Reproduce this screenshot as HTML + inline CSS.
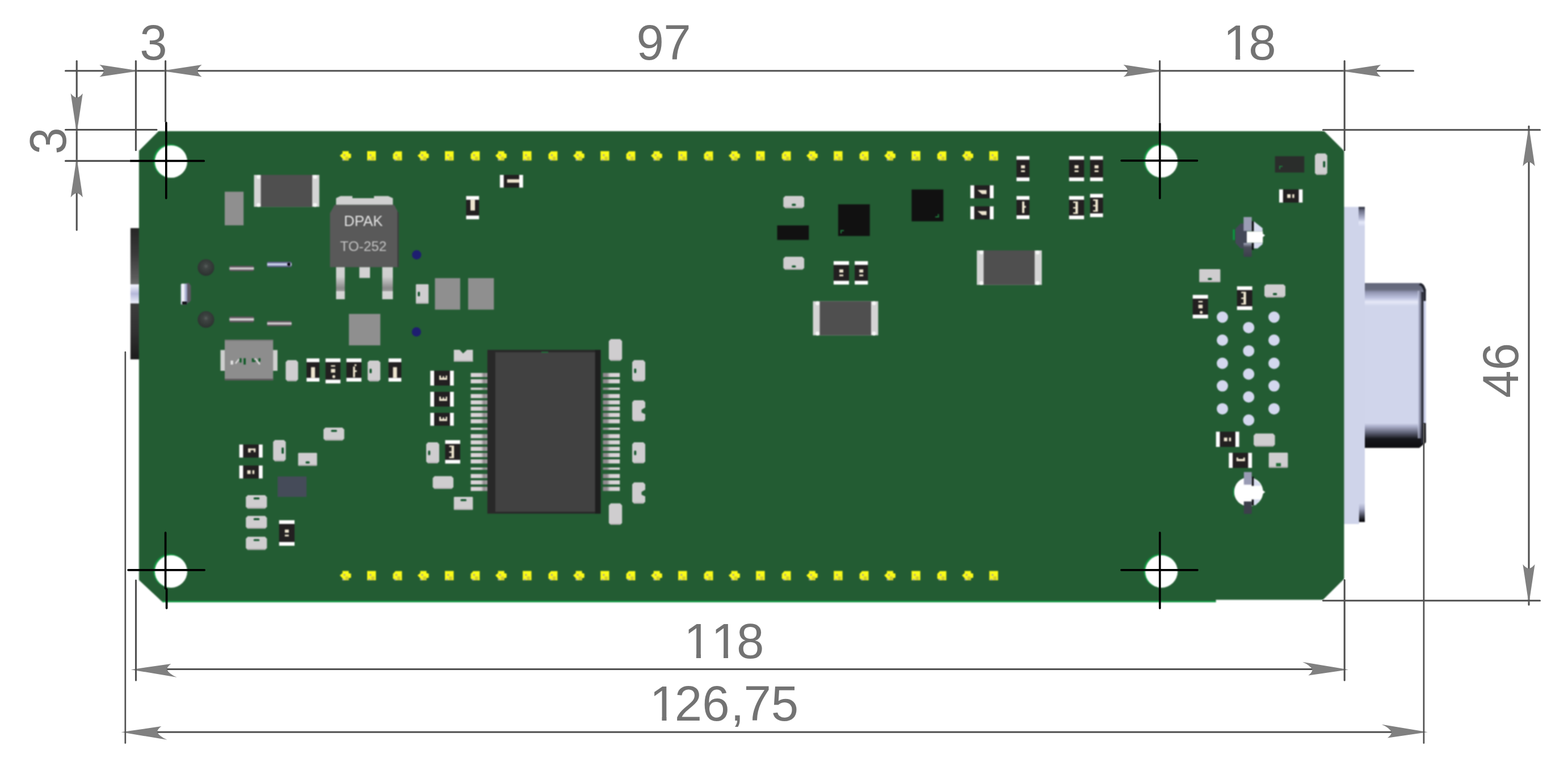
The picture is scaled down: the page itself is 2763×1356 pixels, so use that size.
<!DOCTYPE html>
<html lang="en"><head><meta charset="utf-8"><title>PCB dimensions</title>
<style>html,body{margin:0;padding:0;background:#fff;}body{width:2763px;height:1356px;overflow:hidden;}svg{display:block;}text{font-family:"Liberation Sans",sans-serif;}</style>
</head><body>
<svg width="2763" height="1356" viewBox="0 0 2763 1356">
<defs>
<linearGradient id="jack" x1="0" y1="0" x2="0" y2="1"><stop offset="0" stop-color="#262626"/><stop offset="0.2" stop-color="#3a3a3a"/><stop offset="0.38" stop-color="#5c5c5c"/><stop offset="0.425" stop-color="#6a6a6a"/><stop offset="0.432" stop-color="#f4f4ff"/><stop offset="0.5" stop-color="#b4b8da"/><stop offset="0.57" stop-color="#eceefa"/><stop offset="0.578" stop-color="#3c3c3c"/><stop offset="0.8" stop-color="#303030"/><stop offset="1" stop-color="#1c1c1c"/></linearGradient>
<linearGradient id="shell" x1="0" y1="0" x2="0" y2="1"><stop offset="0" stop-color="#62667a"/><stop offset="0.04" stop-color="#6a6e80"/><stop offset="0.055" stop-color="#9094b0"/><stop offset="0.09" stop-color="#bcc1de"/><stop offset="0.115" stop-color="#e6e9f8"/><stop offset="0.14" stop-color="#d0d5eb"/><stop offset="0.85" stop-color="#d0d5eb"/><stop offset="0.87" stop-color="#a9adc8"/><stop offset="0.91" stop-color="#5a5d70"/><stop offset="0.945" stop-color="#16171c"/><stop offset="1" stop-color="#0c0c10"/></linearGradient>
<linearGradient id="leg" x1="0" y1="0" x2="0" y2="1"><stop offset="0" stop-color="#d2d2d2"/><stop offset="0.3" stop-color="#cfcfcf"/><stop offset="0.65" stop-color="#8a8a8a"/><stop offset="0.74" stop-color="#999"/><stop offset="0.76" stop-color="#d6d6d6"/><stop offset="1" stop-color="#d2d2d2"/></linearGradient>
<linearGradient id="pinh" x1="0" y1="0" x2="0" y2="1"><stop offset="0" stop-color="#4e444c"/><stop offset="0.25" stop-color="#7a7078"/><stop offset="0.5" stop-color="#f0f0f0"/><stop offset="0.75" stop-color="#7a7078"/><stop offset="1" stop-color="#4e444c"/></linearGradient>
<linearGradient id="pinb" x1="0" y1="0" x2="0" y2="1"><stop offset="0" stop-color="#4a4866"/><stop offset="0.25" stop-color="#8086b0"/><stop offset="0.5" stop-color="#e6ebff"/><stop offset="0.75" stop-color="#8086b0"/><stop offset="1" stop-color="#4a4866"/></linearGradient>
<linearGradient id="icpinL" x1="0" y1="0" x2="1" y2="0"><stop offset="0" stop-color="#ddd6da"/><stop offset="0.62" stop-color="#d8d1d5"/><stop offset="0.78" stop-color="#918b8f"/><stop offset="1" stop-color="#aaa4a8"/></linearGradient>
<linearGradient id="icpinR" x1="1" y1="0" x2="0" y2="0"><stop offset="0" stop-color="#ddd6da"/><stop offset="0.58" stop-color="#d8d1d5"/><stop offset="0.75" stop-color="#918b8f"/><stop offset="1" stop-color="#8e888c"/></linearGradient>
<linearGradient id="flg" x1="0" y1="0" x2="0" y2="1"><stop offset="0" stop-color="#2c2e3a"/><stop offset="0.2" stop-color="#6c7088"/><stop offset="0.6" stop-color="#b4b8d4"/><stop offset="0.8" stop-color="#e4e8f8"/><stop offset="1" stop-color="#d4d8ee"/></linearGradient>
<linearGradient id="flg2" x1="0" y1="0" x2="0" y2="1"><stop offset="0" stop-color="#d0d5eb"/><stop offset="0.3" stop-color="#a4a8c4"/><stop offset="0.7" stop-color="#3c3e4c"/><stop offset="0.9" stop-color="#0c0c10"/><stop offset="1" stop-color="#0c0c10"/></linearGradient>
<linearGradient id="vpin" x1="0" y1="0" x2="1" y2="0"><stop offset="0" stop-color="#c8cce6"/><stop offset="0.35" stop-color="#ffffff"/><stop offset="0.7" stop-color="#b4b8da"/><stop offset="1" stop-color="#8084a4"/></linearGradient>
<linearGradient id="sb" x1="0" y1="0" x2="0" y2="1"><stop offset="0" stop-color="#a4a6bc"/><stop offset="0.3" stop-color="#4a4d5a"/><stop offset="1" stop-color="#3c3f4b"/></linearGradient>
<linearGradient id="shellR" x1="0" y1="0" x2="1" y2="0"><stop offset="0" stop-color="#d0d5eb"/><stop offset="0.5" stop-color="#8a8ea8"/><stop offset="1" stop-color="#4a4c5c"/></linearGradient>
<radialGradient id="ball" cx="0.5" cy="0.42" r="0.6"><stop offset="0" stop-color="#5a605e"/><stop offset="0.25" stop-color="#3e4442"/><stop offset="1" stop-color="#2a302e"/></radialGradient>
<filter id="soft" x="-1%" y="-1%" width="102%" height="102%" color-interpolation-filters="sRGB"><feGaussianBlur stdDeviation="0.85"/></filter>
</defs>
<rect width="2763" height="1356" fill="#ffffff"/>
<g filter="url(#soft)">
<rect x="229.9" y="401.7" width="16.1" height="231.1" fill="url(#jack)" />
<rect x="2368.0" y="364.4" width="37.0" height="558.4" fill="#cfd4ea" />
<rect x="2394.0" y="364.4" width="11.0" height="33.6" fill="url(#flg)" />
<rect x="2394.8" y="886.0" width="10.2" height="33.5" fill="url(#flg2)" />
<rect x="2394.8" y="919.5" width="10.2" height="3.5" fill="#ffffff" />
<path d="M2405 498.4 H2503 Q2509 499 2512.5 510 V779 L2501 788.8 H2405 Z" fill="url(#shell)"/>
<path d="M2498.4 512 H2504.5 V772 H2498.4 Z" fill="url(#shellR)" opacity="0.8"/>
<path d="M2503 498.4 Q2509 499 2512.5 510 V530 H2508.6 V514 Q2507 503 2500 502 Z" fill="#20222c"/>
<path d="M2504.5 514 H2508.6 V779 L2504.5 782 Z" fill="#2a2c38"/>
<path d="M2508.6 530 H2512.5 V745 H2508.6 Z" fill="#ccd1ea"/>
<path d="M2508.6 745 H2512.5 V779 L2508.6 782 Z" fill="#14151a"/>
<path d="M279.4 230.9 H2333.5 L2368.4 265.7 V1019.6 L2331.2 1056.3 H2142.5 V1060.2 H286.4 L244.9 1021.6 V265.6 Z" fill="#235c33"/>
<line x1="286" y1="1059.2" x2="2142.5" y2="1059.2" stroke="#0c9a40" stroke-width="2.4"/>
<circle cx="299.59999999999997" cy="283.3" r="29.6" fill="#10953f"/>
<circle cx="301.4" cy="284.5" r="28.6" fill="#ffffff"/>
<circle cx="2044.8" cy="282.8" r="29.6" fill="#10953f"/>
<circle cx="2046.6" cy="284.0" r="28.6" fill="#ffffff"/>
<circle cx="299.59999999999997" cy="1005.1999999999999" r="29.6" fill="#10953f"/>
<circle cx="301.4" cy="1006.4" r="28.6" fill="#ffffff"/>
<circle cx="2044.8" cy="1005.1999999999999" r="29.6" fill="#10953f"/>
<circle cx="2046.6" cy="1006.4" r="28.6" fill="#ffffff"/>
<polygon points="598.7,273.9 603.5,269.9 603.5,266.2 614.5,266.2 614.5,269.9 618.6,270.9 618.6,277.9 614.5,278.9 614.5,282.6 603.5,282.6 603.5,278.9" fill="#fbfb18"/>
<rect x="608.5" y="275.9" width="5.5" height="6.7" fill="#d2cc34" />
<circle cx="607.0" cy="273.2" r="1.7" fill="#a8a296"/>
<circle cx="605.0" cy="281.4" r="1.6" fill="#aaa6b4"/>
<polygon points="647.0,266.2 662.4,266.2 662.4,282.6 647.0,282.6" fill="#fbfb18"/>
<rect x="654.2" y="275.9" width="5.5" height="6.7" fill="#d2cc34" />
<circle cx="652.7" cy="273.2" r="1.7" fill="#a8a296"/>
<circle cx="650.7" cy="281.4" r="1.6" fill="#aaa6b4"/>
<polygon points="696.9,266.4 708.3,266.4 708.3,282.6 695.9,282.6 692.4,278.9 692.4,271.4" fill="#fbfb18"/>
<rect x="699.9" y="275.9" width="5.5" height="6.7" fill="#d2cc34" />
<circle cx="698.4" cy="273.2" r="1.7" fill="#a8a296"/>
<circle cx="696.4" cy="281.4" r="1.6" fill="#aaa6b4"/>
<polygon points="735.7,273.9 740.5,269.9 740.5,266.2 751.5,266.2 751.5,269.9 755.6,270.9 755.6,277.9 751.5,278.9 751.5,282.6 740.5,282.6 740.5,278.9" fill="#fbfb18"/>
<rect x="745.5" y="275.9" width="5.5" height="6.7" fill="#d2cc34" />
<circle cx="744.0" cy="273.2" r="1.7" fill="#a8a296"/>
<circle cx="742.0" cy="281.4" r="1.6" fill="#aaa6b4"/>
<polygon points="784.0,266.2 799.4,266.2 799.4,282.6 784.0,282.6" fill="#fbfb18"/>
<rect x="791.2" y="275.9" width="5.5" height="6.7" fill="#d2cc34" />
<circle cx="789.7" cy="273.2" r="1.7" fill="#a8a296"/>
<circle cx="787.7" cy="281.4" r="1.6" fill="#aaa6b4"/>
<polygon points="833.9,266.4 845.3,266.4 845.3,282.6 832.9,282.6 829.4,278.9 829.4,271.4" fill="#fbfb18"/>
<rect x="836.9" y="275.9" width="5.5" height="6.7" fill="#d2cc34" />
<circle cx="835.4" cy="273.2" r="1.7" fill="#a8a296"/>
<circle cx="833.4" cy="281.4" r="1.6" fill="#aaa6b4"/>
<polygon points="872.8,273.9 877.6,269.9 877.6,266.2 888.6,266.2 888.6,269.9 892.7,270.9 892.7,277.9 888.6,278.9 888.6,282.6 877.6,282.6 877.6,278.9" fill="#fbfb18"/>
<rect x="882.6" y="275.9" width="5.5" height="6.7" fill="#d2cc34" />
<circle cx="881.1" cy="273.2" r="1.7" fill="#a8a296"/>
<circle cx="879.1" cy="281.4" r="1.6" fill="#aaa6b4"/>
<polygon points="921.1,266.2 936.5,266.2 936.5,282.6 921.1,282.6" fill="#fbfb18"/>
<rect x="928.3" y="275.9" width="5.5" height="6.7" fill="#d2cc34" />
<circle cx="926.8" cy="273.2" r="1.7" fill="#a8a296"/>
<circle cx="924.8" cy="281.4" r="1.6" fill="#aaa6b4"/>
<polygon points="970.9,266.4 982.3,266.4 982.3,282.6 969.9,282.6 966.4,278.9 966.4,271.4" fill="#fbfb18"/>
<rect x="973.9" y="275.9" width="5.5" height="6.7" fill="#d2cc34" />
<circle cx="972.4" cy="273.2" r="1.7" fill="#a8a296"/>
<circle cx="970.4" cy="281.4" r="1.6" fill="#aaa6b4"/>
<polygon points="1009.8,273.9 1014.6,269.9 1014.6,266.2 1025.6,266.2 1025.6,269.9 1029.7,270.9 1029.7,277.9 1025.6,278.9 1025.6,282.6 1014.6,282.6 1014.6,278.9" fill="#fbfb18"/>
<rect x="1019.6" y="275.9" width="5.5" height="6.7" fill="#d2cc34" />
<circle cx="1018.1" cy="273.2" r="1.7" fill="#a8a296"/>
<circle cx="1016.1" cy="281.4" r="1.6" fill="#aaa6b4"/>
<polygon points="1058.1,266.2 1073.5,266.2 1073.5,282.6 1058.1,282.6" fill="#fbfb18"/>
<rect x="1065.3" y="275.9" width="5.5" height="6.7" fill="#d2cc34" />
<circle cx="1063.8" cy="273.2" r="1.7" fill="#a8a296"/>
<circle cx="1061.8" cy="281.4" r="1.6" fill="#aaa6b4"/>
<polygon points="1108.0,266.4 1119.4,266.4 1119.4,282.6 1107.0,282.6 1103.5,278.9 1103.5,271.4" fill="#fbfb18"/>
<rect x="1111.0" y="275.9" width="5.5" height="6.7" fill="#d2cc34" />
<circle cx="1109.5" cy="273.2" r="1.7" fill="#a8a296"/>
<circle cx="1107.5" cy="281.4" r="1.6" fill="#aaa6b4"/>
<polygon points="1146.9,273.9 1151.7,269.9 1151.7,266.2 1162.7,266.2 1162.7,269.9 1166.8,270.9 1166.8,277.9 1162.7,278.9 1162.7,282.6 1151.7,282.6 1151.7,278.9" fill="#fbfb18"/>
<rect x="1156.7" y="275.9" width="5.5" height="6.7" fill="#d2cc34" />
<circle cx="1155.2" cy="273.2" r="1.7" fill="#a8a296"/>
<circle cx="1153.2" cy="281.4" r="1.6" fill="#aaa6b4"/>
<polygon points="1195.1,266.2 1210.5,266.2 1210.5,282.6 1195.1,282.6" fill="#fbfb18"/>
<rect x="1202.3" y="275.9" width="5.5" height="6.7" fill="#d2cc34" />
<circle cx="1200.8" cy="273.2" r="1.7" fill="#a8a296"/>
<circle cx="1198.8" cy="281.4" r="1.6" fill="#aaa6b4"/>
<polygon points="1245.0,266.4 1256.4,266.4 1256.4,282.6 1244.0,282.6 1240.5,278.9 1240.5,271.4" fill="#fbfb18"/>
<rect x="1248.0" y="275.9" width="5.5" height="6.7" fill="#d2cc34" />
<circle cx="1246.5" cy="273.2" r="1.7" fill="#a8a296"/>
<circle cx="1244.5" cy="281.4" r="1.6" fill="#aaa6b4"/>
<polygon points="1283.9,273.9 1288.7,269.9 1288.7,266.2 1299.7,266.2 1299.7,269.9 1303.8,270.9 1303.8,277.9 1299.7,278.9 1299.7,282.6 1288.7,282.6 1288.7,278.9" fill="#fbfb18"/>
<rect x="1293.7" y="275.9" width="5.5" height="6.7" fill="#d2cc34" />
<circle cx="1292.2" cy="273.2" r="1.7" fill="#a8a296"/>
<circle cx="1290.2" cy="281.4" r="1.6" fill="#aaa6b4"/>
<polygon points="1332.2,266.2 1347.6,266.2 1347.6,282.6 1332.2,282.6" fill="#fbfb18"/>
<rect x="1339.4" y="275.9" width="5.5" height="6.7" fill="#d2cc34" />
<circle cx="1337.9" cy="273.2" r="1.7" fill="#a8a296"/>
<circle cx="1335.9" cy="281.4" r="1.6" fill="#aaa6b4"/>
<polygon points="1382.1,266.4 1393.5,266.4 1393.5,282.6 1381.1,282.6 1377.6,278.9 1377.6,271.4" fill="#fbfb18"/>
<rect x="1385.1" y="275.9" width="5.5" height="6.7" fill="#d2cc34" />
<circle cx="1383.6" cy="273.2" r="1.7" fill="#a8a296"/>
<circle cx="1381.6" cy="281.4" r="1.6" fill="#aaa6b4"/>
<polygon points="1420.9,273.9 1425.7,269.9 1425.7,266.2 1436.7,266.2 1436.7,269.9 1440.8,270.9 1440.8,277.9 1436.7,278.9 1436.7,282.6 1425.7,282.6 1425.7,278.9" fill="#fbfb18"/>
<rect x="1430.7" y="275.9" width="5.5" height="6.7" fill="#d2cc34" />
<circle cx="1429.2" cy="273.2" r="1.7" fill="#a8a296"/>
<circle cx="1427.2" cy="281.4" r="1.6" fill="#aaa6b4"/>
<polygon points="1469.2,266.2 1484.6,266.2 1484.6,282.6 1469.2,282.6" fill="#fbfb18"/>
<rect x="1476.4" y="275.9" width="5.5" height="6.7" fill="#d2cc34" />
<circle cx="1474.9" cy="273.2" r="1.7" fill="#a8a296"/>
<circle cx="1472.9" cy="281.4" r="1.6" fill="#aaa6b4"/>
<polygon points="1519.1,266.4 1530.5,266.4 1530.5,282.6 1518.1,282.6 1514.6,278.9 1514.6,271.4" fill="#fbfb18"/>
<rect x="1522.1" y="275.9" width="5.5" height="6.7" fill="#d2cc34" />
<circle cx="1520.6" cy="273.2" r="1.7" fill="#a8a296"/>
<circle cx="1518.6" cy="281.4" r="1.6" fill="#aaa6b4"/>
<polygon points="1558.0,273.9 1562.8,269.9 1562.8,266.2 1573.8,266.2 1573.8,269.9 1577.9,270.9 1577.9,277.9 1573.8,278.9 1573.8,282.6 1562.8,282.6 1562.8,278.9" fill="#fbfb18"/>
<rect x="1567.8" y="275.9" width="5.5" height="6.7" fill="#d2cc34" />
<circle cx="1566.3" cy="273.2" r="1.7" fill="#a8a296"/>
<circle cx="1564.3" cy="281.4" r="1.6" fill="#aaa6b4"/>
<polygon points="1606.3,266.2 1621.7,266.2 1621.7,282.6 1606.3,282.6" fill="#fbfb18"/>
<rect x="1613.5" y="275.9" width="5.5" height="6.7" fill="#d2cc34" />
<circle cx="1612.0" cy="273.2" r="1.7" fill="#a8a296"/>
<circle cx="1610.0" cy="281.4" r="1.6" fill="#aaa6b4"/>
<polygon points="1656.1,266.4 1667.5,266.4 1667.5,282.6 1655.1,282.6 1651.6,278.9 1651.6,271.4" fill="#fbfb18"/>
<rect x="1659.1" y="275.9" width="5.5" height="6.7" fill="#d2cc34" />
<circle cx="1657.6" cy="273.2" r="1.7" fill="#a8a296"/>
<circle cx="1655.6" cy="281.4" r="1.6" fill="#aaa6b4"/>
<polygon points="1695.0,273.9 1699.8,269.9 1699.8,266.2 1710.8,266.2 1710.8,269.9 1714.9,270.9 1714.9,277.9 1710.8,278.9 1710.8,282.6 1699.8,282.6 1699.8,278.9" fill="#fbfb18"/>
<rect x="1704.8" y="275.9" width="5.5" height="6.7" fill="#d2cc34" />
<circle cx="1703.3" cy="273.2" r="1.7" fill="#a8a296"/>
<circle cx="1701.3" cy="281.4" r="1.6" fill="#aaa6b4"/>
<polygon points="1743.3,266.2 1758.7,266.2 1758.7,282.6 1743.3,282.6" fill="#fbfb18"/>
<rect x="1750.5" y="275.9" width="5.5" height="6.7" fill="#d2cc34" />
<circle cx="1749.0" cy="273.2" r="1.7" fill="#a8a296"/>
<circle cx="1747.0" cy="281.4" r="1.6" fill="#aaa6b4"/>
<polygon points="598.7,1013.2 603.5,1009.2 603.5,1005.5 614.5,1005.5 614.5,1009.2 618.6,1010.2 618.6,1017.2 614.5,1018.2 614.5,1021.9 603.5,1021.9 603.5,1018.2" fill="#fbfb18"/>
<rect x="608.5" y="1015.2" width="5.5" height="6.7" fill="#d2cc34" />
<circle cx="607.0" cy="1012.5" r="1.7" fill="#a8a296"/>
<circle cx="605.0" cy="1020.7" r="1.6" fill="#aaa6b4"/>
<polygon points="647.0,1005.5 662.4,1005.5 662.4,1021.9 647.0,1021.9" fill="#fbfb18"/>
<rect x="654.2" y="1015.2" width="5.5" height="6.7" fill="#d2cc34" />
<circle cx="652.7" cy="1012.5" r="1.7" fill="#a8a296"/>
<circle cx="650.7" cy="1020.7" r="1.6" fill="#aaa6b4"/>
<polygon points="696.9,1005.7 708.3,1005.7 708.3,1021.9 695.9,1021.9 692.4,1018.2 692.4,1010.7" fill="#fbfb18"/>
<rect x="699.9" y="1015.2" width="5.5" height="6.7" fill="#d2cc34" />
<circle cx="698.4" cy="1012.5" r="1.7" fill="#a8a296"/>
<circle cx="696.4" cy="1020.7" r="1.6" fill="#aaa6b4"/>
<polygon points="735.7,1013.2 740.5,1009.2 740.5,1005.5 751.5,1005.5 751.5,1009.2 755.6,1010.2 755.6,1017.2 751.5,1018.2 751.5,1021.9 740.5,1021.9 740.5,1018.2" fill="#fbfb18"/>
<rect x="745.5" y="1015.2" width="5.5" height="6.7" fill="#d2cc34" />
<circle cx="744.0" cy="1012.5" r="1.7" fill="#a8a296"/>
<circle cx="742.0" cy="1020.7" r="1.6" fill="#aaa6b4"/>
<polygon points="784.0,1005.5 799.4,1005.5 799.4,1021.9 784.0,1021.9" fill="#fbfb18"/>
<rect x="791.2" y="1015.2" width="5.5" height="6.7" fill="#d2cc34" />
<circle cx="789.7" cy="1012.5" r="1.7" fill="#a8a296"/>
<circle cx="787.7" cy="1020.7" r="1.6" fill="#aaa6b4"/>
<polygon points="833.9,1005.7 845.3,1005.7 845.3,1021.9 832.9,1021.9 829.4,1018.2 829.4,1010.7" fill="#fbfb18"/>
<rect x="836.9" y="1015.2" width="5.5" height="6.7" fill="#d2cc34" />
<circle cx="835.4" cy="1012.5" r="1.7" fill="#a8a296"/>
<circle cx="833.4" cy="1020.7" r="1.6" fill="#aaa6b4"/>
<polygon points="872.8,1013.2 877.6,1009.2 877.6,1005.5 888.6,1005.5 888.6,1009.2 892.7,1010.2 892.7,1017.2 888.6,1018.2 888.6,1021.9 877.6,1021.9 877.6,1018.2" fill="#fbfb18"/>
<rect x="882.6" y="1015.2" width="5.5" height="6.7" fill="#d2cc34" />
<circle cx="881.1" cy="1012.5" r="1.7" fill="#a8a296"/>
<circle cx="879.1" cy="1020.7" r="1.6" fill="#aaa6b4"/>
<polygon points="921.1,1005.5 936.5,1005.5 936.5,1021.9 921.1,1021.9" fill="#fbfb18"/>
<rect x="928.3" y="1015.2" width="5.5" height="6.7" fill="#d2cc34" />
<circle cx="926.8" cy="1012.5" r="1.7" fill="#a8a296"/>
<circle cx="924.8" cy="1020.7" r="1.6" fill="#aaa6b4"/>
<polygon points="970.9,1005.7 982.3,1005.7 982.3,1021.9 969.9,1021.9 966.4,1018.2 966.4,1010.7" fill="#fbfb18"/>
<rect x="973.9" y="1015.2" width="5.5" height="6.7" fill="#d2cc34" />
<circle cx="972.4" cy="1012.5" r="1.7" fill="#a8a296"/>
<circle cx="970.4" cy="1020.7" r="1.6" fill="#aaa6b4"/>
<polygon points="1009.8,1013.2 1014.6,1009.2 1014.6,1005.5 1025.6,1005.5 1025.6,1009.2 1029.7,1010.2 1029.7,1017.2 1025.6,1018.2 1025.6,1021.9 1014.6,1021.9 1014.6,1018.2" fill="#fbfb18"/>
<rect x="1019.6" y="1015.2" width="5.5" height="6.7" fill="#d2cc34" />
<circle cx="1018.1" cy="1012.5" r="1.7" fill="#a8a296"/>
<circle cx="1016.1" cy="1020.7" r="1.6" fill="#aaa6b4"/>
<polygon points="1058.1,1005.5 1073.5,1005.5 1073.5,1021.9 1058.1,1021.9" fill="#fbfb18"/>
<rect x="1065.3" y="1015.2" width="5.5" height="6.7" fill="#d2cc34" />
<circle cx="1063.8" cy="1012.5" r="1.7" fill="#a8a296"/>
<circle cx="1061.8" cy="1020.7" r="1.6" fill="#aaa6b4"/>
<polygon points="1108.0,1005.7 1119.4,1005.7 1119.4,1021.9 1107.0,1021.9 1103.5,1018.2 1103.5,1010.7" fill="#fbfb18"/>
<rect x="1111.0" y="1015.2" width="5.5" height="6.7" fill="#d2cc34" />
<circle cx="1109.5" cy="1012.5" r="1.7" fill="#a8a296"/>
<circle cx="1107.5" cy="1020.7" r="1.6" fill="#aaa6b4"/>
<polygon points="1146.9,1013.2 1151.7,1009.2 1151.7,1005.5 1162.7,1005.5 1162.7,1009.2 1166.8,1010.2 1166.8,1017.2 1162.7,1018.2 1162.7,1021.9 1151.7,1021.9 1151.7,1018.2" fill="#fbfb18"/>
<rect x="1156.7" y="1015.2" width="5.5" height="6.7" fill="#d2cc34" />
<circle cx="1155.2" cy="1012.5" r="1.7" fill="#a8a296"/>
<circle cx="1153.2" cy="1020.7" r="1.6" fill="#aaa6b4"/>
<polygon points="1195.1,1005.5 1210.5,1005.5 1210.5,1021.9 1195.1,1021.9" fill="#fbfb18"/>
<rect x="1202.3" y="1015.2" width="5.5" height="6.7" fill="#d2cc34" />
<circle cx="1200.8" cy="1012.5" r="1.7" fill="#a8a296"/>
<circle cx="1198.8" cy="1020.7" r="1.6" fill="#aaa6b4"/>
<polygon points="1245.0,1005.7 1256.4,1005.7 1256.4,1021.9 1244.0,1021.9 1240.5,1018.2 1240.5,1010.7" fill="#fbfb18"/>
<rect x="1248.0" y="1015.2" width="5.5" height="6.7" fill="#d2cc34" />
<circle cx="1246.5" cy="1012.5" r="1.7" fill="#a8a296"/>
<circle cx="1244.5" cy="1020.7" r="1.6" fill="#aaa6b4"/>
<polygon points="1283.9,1013.2 1288.7,1009.2 1288.7,1005.5 1299.7,1005.5 1299.7,1009.2 1303.8,1010.2 1303.8,1017.2 1299.7,1018.2 1299.7,1021.9 1288.7,1021.9 1288.7,1018.2" fill="#fbfb18"/>
<rect x="1293.7" y="1015.2" width="5.5" height="6.7" fill="#d2cc34" />
<circle cx="1292.2" cy="1012.5" r="1.7" fill="#a8a296"/>
<circle cx="1290.2" cy="1020.7" r="1.6" fill="#aaa6b4"/>
<polygon points="1332.2,1005.5 1347.6,1005.5 1347.6,1021.9 1332.2,1021.9" fill="#fbfb18"/>
<rect x="1339.4" y="1015.2" width="5.5" height="6.7" fill="#d2cc34" />
<circle cx="1337.9" cy="1012.5" r="1.7" fill="#a8a296"/>
<circle cx="1335.9" cy="1020.7" r="1.6" fill="#aaa6b4"/>
<polygon points="1382.1,1005.7 1393.5,1005.7 1393.5,1021.9 1381.1,1021.9 1377.6,1018.2 1377.6,1010.7" fill="#fbfb18"/>
<rect x="1385.1" y="1015.2" width="5.5" height="6.7" fill="#d2cc34" />
<circle cx="1383.6" cy="1012.5" r="1.7" fill="#a8a296"/>
<circle cx="1381.6" cy="1020.7" r="1.6" fill="#aaa6b4"/>
<polygon points="1420.9,1013.2 1425.7,1009.2 1425.7,1005.5 1436.7,1005.5 1436.7,1009.2 1440.8,1010.2 1440.8,1017.2 1436.7,1018.2 1436.7,1021.9 1425.7,1021.9 1425.7,1018.2" fill="#fbfb18"/>
<rect x="1430.7" y="1015.2" width="5.5" height="6.7" fill="#d2cc34" />
<circle cx="1429.2" cy="1012.5" r="1.7" fill="#a8a296"/>
<circle cx="1427.2" cy="1020.7" r="1.6" fill="#aaa6b4"/>
<polygon points="1469.2,1005.5 1484.6,1005.5 1484.6,1021.9 1469.2,1021.9" fill="#fbfb18"/>
<rect x="1476.4" y="1015.2" width="5.5" height="6.7" fill="#d2cc34" />
<circle cx="1474.9" cy="1012.5" r="1.7" fill="#a8a296"/>
<circle cx="1472.9" cy="1020.7" r="1.6" fill="#aaa6b4"/>
<polygon points="1519.1,1005.7 1530.5,1005.7 1530.5,1021.9 1518.1,1021.9 1514.6,1018.2 1514.6,1010.7" fill="#fbfb18"/>
<rect x="1522.1" y="1015.2" width="5.5" height="6.7" fill="#d2cc34" />
<circle cx="1520.6" cy="1012.5" r="1.7" fill="#a8a296"/>
<circle cx="1518.6" cy="1020.7" r="1.6" fill="#aaa6b4"/>
<polygon points="1558.0,1013.2 1562.8,1009.2 1562.8,1005.5 1573.8,1005.5 1573.8,1009.2 1577.9,1010.2 1577.9,1017.2 1573.8,1018.2 1573.8,1021.9 1562.8,1021.9 1562.8,1018.2" fill="#fbfb18"/>
<rect x="1567.8" y="1015.2" width="5.5" height="6.7" fill="#d2cc34" />
<circle cx="1566.3" cy="1012.5" r="1.7" fill="#a8a296"/>
<circle cx="1564.3" cy="1020.7" r="1.6" fill="#aaa6b4"/>
<polygon points="1606.3,1005.5 1621.7,1005.5 1621.7,1021.9 1606.3,1021.9" fill="#fbfb18"/>
<rect x="1613.5" y="1015.2" width="5.5" height="6.7" fill="#d2cc34" />
<circle cx="1612.0" cy="1012.5" r="1.7" fill="#a8a296"/>
<circle cx="1610.0" cy="1020.7" r="1.6" fill="#aaa6b4"/>
<polygon points="1656.1,1005.7 1667.5,1005.7 1667.5,1021.9 1655.1,1021.9 1651.6,1018.2 1651.6,1010.7" fill="#fbfb18"/>
<rect x="1659.1" y="1015.2" width="5.5" height="6.7" fill="#d2cc34" />
<circle cx="1657.6" cy="1012.5" r="1.7" fill="#a8a296"/>
<circle cx="1655.6" cy="1020.7" r="1.6" fill="#aaa6b4"/>
<polygon points="1695.0,1013.2 1699.8,1009.2 1699.8,1005.5 1710.8,1005.5 1710.8,1009.2 1714.9,1010.2 1714.9,1017.2 1710.8,1018.2 1710.8,1021.9 1699.8,1021.9 1699.8,1018.2" fill="#fbfb18"/>
<rect x="1704.8" y="1015.2" width="5.5" height="6.7" fill="#d2cc34" />
<circle cx="1703.3" cy="1012.5" r="1.7" fill="#a8a296"/>
<circle cx="1701.3" cy="1020.7" r="1.6" fill="#aaa6b4"/>
<polygon points="1743.3,1005.5 1758.7,1005.5 1758.7,1021.9 1743.3,1021.9" fill="#fbfb18"/>
<rect x="1750.5" y="1015.2" width="5.5" height="6.7" fill="#d2cc34" />
<circle cx="1749.0" cy="1012.5" r="1.7" fill="#a8a296"/>
<circle cx="1747.0" cy="1020.7" r="1.6" fill="#aaa6b4"/>
<rect x="396.0" y="337.6" width="33.2" height="59.2" fill="#8f8f8f" />
<rect x="447.6" y="308.0" width="115.1" height="56.2" fill="#d4d4d4" />
<rect x="459.6" y="308.0" width="90.5" height="56.2" fill="#4f4f4f" />
<circle cx="455.6" cy="311.5" r="3.6" fill="#f6f6f6"/>
<circle cx="455.6" cy="361.0" r="3.6" fill="#f6f6f6"/>
<circle cx="555.2" cy="311.5" r="3.6" fill="#f6f6f6"/>
<circle cx="555.2" cy="361.0" r="3.6" fill="#f6f6f6"/>
<path d="M592.2 360.8 V349 L600 345.3 H621 V349 H659 V345.3 H684 L692.3 349 V360.8 Z" fill="#d0d0d0"/>
<path d="M581.5 375.5 L589.5 360.8 H694.5 L702.5 375.5 V470.5 H581.5 Z" fill="#595959"/>
<path d="M700.2 371.5 L702.5 375.5 V470.5 H700.2 Z" fill="#3a3a3a"/>
<text x="640.3" y="397.6" font-size="25.5" text-anchor="middle" fill="#e4e4e4" textLength="68.5" lengthAdjust="spacingAndGlyphs">DPAK</text>
<text x="640.3" y="441.6" font-size="24" text-anchor="middle" fill="#d6d6d6" fill-opacity="0.85" textLength="82" lengthAdjust="spacingAndGlyphs">TO-252</text>
<rect x="592.2" y="470.5" width="15.4" height="56.5" fill="url(#leg)" />
<rect x="673.5" y="470.5" width="18.8" height="56.5" fill="url(#leg)" />
<rect x="633.2" y="470.5" width="18.8" height="19.0" fill="#d2d2d2" />
<circle cx="734.2" cy="448.8" r="8.2" fill="#1e1e70"/>
<circle cx="733.8" cy="584.5" r="8.2" fill="#1e1e70"/>
<circle cx="362.9" cy="471.2" r="14.6" fill="url(#ball)"/>
<circle cx="362.9" cy="562.7" r="14.6" fill="url(#ball)"/>
<path d="M404.3 469.0 L406.3 468.0 H445.5 L447.5 470.0 V475.6 L445.5 477.6 H406.3 L404.3 476.6 Z" fill="url(#pinh)"/>
<path d="M470.7 461.8 L472.7 460.8 H511.9 L513.9 462.8 V468.4 L511.9 470.4 H472.7 L470.7 469.4 Z" fill="url(#pinb)"/>
<circle cx="509" cy="465.4" r="2.8" fill="#0c0c12"/>
<path d="M404.3 558.2 L406.3 557.2 H445.5 L447.5 559.2 V565.8 L445.5 567.8 H406.3 L404.3 566.8 Z" fill="url(#pinh)"/>
<path d="M470.7 565.9 L472.7 564.9 H511.9 L513.9 566.9 V572.5 L511.9 574.5 H472.7 L470.7 573.5 Z" fill="url(#pinh)"/>
<path d="M328 498.5 H333 L336.3 503 V529 L333 533 H328 Z" fill="#5c5762"/>
<rect x="318.6" y="499.5" width="11.6" height="37" rx="2" fill="url(#vpin)"/>
<rect x="321.0" y="531.0" width="8.5" height="5.5" fill="#14141a" />
<rect x="388.5" y="616.4" width="100.5" height="36.6" fill="#cfcfcf" />
<rect x="396.0" y="598.5" width="85.3" height="71.3" fill="#8d8d8d" />
<rect x="396.0" y="667.0" width="85.3" height="2.8" fill="#5e585c" />
<rect x="396.0" y="598.5" width="85.3" height="1.8" fill="#7c767a" />
<rect x="406.4" y="635.0" width="4.4" height="7.0" fill="#e4e4e4" />
<path d="M414 639.5 L420.5 631.5 L422 633 L416 641 Z" fill="#dcdcdc"/>
<rect x="422.2" y="630.8" width="3.4" height="7.6" fill="#0e5a26" />
<rect x="429.2" y="630.8" width="3.8" height="11.2" fill="#0e5a26" />
<path d="M443.8 631 H447 V634.5 H450.2 V637.6 H443.8 Z" fill="#0e5a26"/>
<path d="M448.5 631.5 L450.5 630.5 L459 641 L456.5 642.5 Z" fill="#dcdcdc"/>
<rect x="455.6" y="630.8" width="3.4" height="6.0" fill="#0e5a26" />
<rect x="614.8" y="552.8" width="55.4" height="55.4" fill="#8f8f8f" />
<path d="M506.6 634.6 H522.1 L525.3 637.8 V668.1 L522.1 671.3 H506.6 L503.4 668.1 V637.8 Z" fill="#cfcdcf"/>
<rect x="506.6" y="669.1" width="15.5" height="2.2" fill="#b9b3b7" />
<rect x="506.6" y="634.6" width="15.5" height="1.2" fill="#dedade" />
<rect x="540.2" y="631.2" width="22.7" height="40.8" fill="#221f20" />
<rect x="540.2" y="631.2" width="22.7" height="6.6" fill="#ffffff" />
<rect x="540.2" y="665.4" width="22.7" height="6.6" fill="#ffffff" />
<rect x="548.1" y="646.6" width="7.0" height="18.8" fill="#efe6cf" />
<rect x="573.6" y="631.2" width="26.3" height="44.0" fill="#221f20" />
<rect x="573.6" y="631.2" width="26.3" height="6.6" fill="#ffffff" />
<rect x="573.6" y="668.6" width="26.3" height="6.6" fill="#ffffff" />
<rect x="583.2" y="643.2" width="7.5" height="2.5" fill="#efe6cf" />
<rect x="583.2" y="649.7" width="7.5" height="6.5" fill="#efe6cf" />
<circle cx="588.2" cy="663.2" r="2.6" fill="#efe6cf"/>
<rect x="610.4" y="631.2" width="26.5" height="40.8" fill="#221f20" />
<rect x="610.4" y="631.2" width="26.5" height="6.6" fill="#ffffff" />
<rect x="610.4" y="665.4" width="26.5" height="6.6" fill="#ffffff" />
<rect x="622.1" y="645.6" width="3.5" height="18.8" fill="#efe6cf" />
<rect x="624.6" y="641.6" width="3.5" height="3.0" fill="#efe6cf" />
<rect x="624.6" y="652.1" width="4.0" height="3.0" fill="#efe6cf" />
<path d="M651.0 635.0 H667.0 L670.2 638.2 V668.2 L667.0 671.4 H651.0 L647.8 668.2 V638.2 Z" fill="#cfcdcf"/>
<rect x="651.0" y="669.2" width="16.0" height="2.2" fill="#b9b3b7" />
<rect x="651.0" y="635.0" width="16.0" height="1.2" fill="#dedade" />
<rect x="651.2" y="649.2" width="3.8" height="8" rx="1.5" fill="#11542a"/>
<rect x="684.6" y="631.2" width="22.6" height="40.8" fill="#221f20" />
<rect x="684.6" y="631.2" width="22.6" height="6.6" fill="#ffffff" />
<rect x="684.6" y="665.4" width="22.6" height="6.6" fill="#ffffff" />
<rect x="692.5" y="646.6" width="7.0" height="18.8" fill="#efe6cf" />
<path d="M733.6 500.8 H754.4 L755.2 501.6 V533.9 L754.4 534.7 H733.6 L732.8 533.9 V501.6 Z" fill="#cfcdcf"/>
<rect x="733.6" y="532.5" width="20.8" height="2.2" fill="#b9b3b7" />
<rect x="733.6" y="500.8" width="20.8" height="1.2" fill="#dedade" />
<rect x="736.2" y="513.8" width="3.8" height="8" rx="1.5" fill="#11542a"/>
<rect x="766.4" y="489.8" width="44.5" height="55.5" fill="#8f8f8f" />
<rect x="824.9" y="489.8" width="45.4" height="55.5" fill="#8f8f8f" />
<path d="M573.2 753.3 H603.4 L606.6 756.5 V772.4 L603.4 775.6 H573.2 L570.0 772.4 V756.5 Z" fill="#cfcdcf"/>
<rect x="573.2" y="773.4" width="30.2" height="2.2" fill="#b9b3b7" />
<rect x="573.2" y="753.3" width="30.2" height="1.2" fill="#dedade" />
<rect x="583.3" y="757.1" width="10.5" height="3.4" rx="1.5" fill="#11542a"/>
<rect x="421.6" y="782.8" width="41.2" height="23.0" fill="#221f20" />
<rect x="421.6" y="782.8" width="6.8" height="23.0" fill="#ffffff" />
<rect x="456.0" y="782.8" width="6.8" height="23.0" fill="#ffffff" />
<rect x="437.2" y="789.8" width="13.0" height="3.0" fill="#efe6cf" />
<rect x="437.2" y="789.8" width="4.5" height="7.0" fill="#efe6cf" />
<rect x="447.2" y="789.8" width="3.0" height="6.5" fill="#efe6cf" />
<rect x="421.6" y="819.8" width="41.2" height="22.8" fill="#221f20" />
<rect x="421.6" y="819.8" width="6.8" height="22.8" fill="#ffffff" />
<rect x="456.0" y="819.8" width="6.8" height="22.8" fill="#ffffff" />
<rect x="435.7" y="828.2" width="6.0" height="6.5" fill="#efe6cf" />
<rect x="444.7" y="828.2" width="3.5" height="6.5" fill="#efe6cf" />
<path d="M484.4 775.0 H500.4 L503.6 778.2 V809.1 L500.4 812.3 H484.4 L481.2 809.1 V778.2 Z" fill="#cfcdcf"/>
<rect x="484.4" y="810.1" width="16.0" height="2.2" fill="#b9b3b7" />
<rect x="484.4" y="775.0" width="16.0" height="1.2" fill="#dedade" />
<rect x="496.2" y="788.1" width="3.8" height="11" rx="1.5" fill="#11542a"/>
<path d="M526.1 797.8 H557.9 L558.7 798.6 V819.4 L557.9 820.2 H526.1 L525.3 819.4 V798.6 Z" fill="#cfcdcf"/>
<rect x="526.1" y="818.0" width="31.8" height="2.2" fill="#b9b3b7" />
<rect x="526.1" y="797.8" width="31.8" height="1.2" fill="#dedade" />
<rect x="538.5" y="812.6" width="7.2" height="3.6" rx="1.5" fill="#11542a"/>
<rect x="489.2" y="839.1" width="50.9" height="35.9" fill="#454b59" />
<path d="M436.4 872.3 H467.2 L470.4 875.5 V892.3 L467.2 895.5 H436.4 L433.2 892.3 V875.5 Z" fill="#cfcdcf"/>
<rect x="436.4" y="893.3" width="30.8" height="2.2" fill="#b9b3b7" />
<rect x="436.4" y="872.3" width="30.8" height="1.2" fill="#dedade" />
<rect x="446.8" y="876.1" width="10.5" height="3.4" rx="1.5" fill="#11542a"/>
<path d="M436.4 908.8 H467.2 L470.4 912.0 V927.8 L467.2 931.0 H436.4 L433.2 927.8 V912.0 Z" fill="#cfcdcf"/>
<rect x="436.4" y="928.8" width="30.8" height="2.2" fill="#b9b3b7" />
<rect x="436.4" y="908.8" width="30.8" height="1.2" fill="#dedade" />
<rect x="446.8" y="912.6" width="10.5" height="3.4" rx="1.5" fill="#11542a"/>
<path d="M436.4 945.6 H467.2 L470.4 948.8 V965.0 L467.2 968.2 H436.4 L433.2 965.0 V948.8 Z" fill="#cfcdcf"/>
<rect x="436.4" y="966.0" width="30.8" height="2.2" fill="#b9b3b7" />
<rect x="436.4" y="945.6" width="30.8" height="1.2" fill="#dedade" />
<rect x="446.8" y="949.4" width="10.5" height="3.4" rx="1.5" fill="#11542a"/>
<rect x="491.8" y="916.1" width="27.2" height="45.0" fill="#221f20" />
<rect x="491.8" y="916.1" width="27.2" height="6.6" fill="#ffffff" />
<rect x="491.8" y="954.5" width="27.2" height="6.6" fill="#ffffff" />
<rect x="501.9" y="932.6" width="7.0" height="5.5" fill="#efe6cf" />
<rect x="501.9" y="941.6" width="7.0" height="3.0" fill="#efe6cf" />
<rect x="758.2" y="652.8" width="41.5" height="26.2" fill="#221f20" />
<rect x="758.2" y="652.8" width="6.8" height="26.2" fill="#ffffff" />
<rect x="792.9" y="652.8" width="6.8" height="26.2" fill="#ffffff" />
<rect x="774.0" y="665.4" width="14.0" height="3.5" fill="#efe6cf" />
<rect x="774.0" y="661.4" width="3.0" height="4.5" fill="#efe6cf" />
<rect x="780.0" y="662.4" width="2.5" height="3.5" fill="#efe6cf" />
<rect x="785.5" y="661.4" width="2.5" height="4.5" fill="#efe6cf" />
<rect x="758.2" y="690.0" width="41.5" height="26.0" fill="#221f20" />
<rect x="758.2" y="690.0" width="6.8" height="26.0" fill="#ffffff" />
<rect x="792.9" y="690.0" width="6.8" height="26.0" fill="#ffffff" />
<rect x="774.0" y="702.5" width="14.0" height="3.5" fill="#efe6cf" />
<rect x="774.0" y="698.5" width="3.0" height="4.5" fill="#efe6cf" />
<rect x="780.0" y="699.5" width="2.5" height="3.5" fill="#efe6cf" />
<rect x="785.5" y="698.5" width="2.5" height="4.5" fill="#efe6cf" />
<rect x="758.2" y="727.0" width="41.5" height="22.7" fill="#221f20" />
<rect x="758.2" y="727.0" width="6.8" height="22.7" fill="#ffffff" />
<rect x="792.9" y="727.0" width="6.8" height="22.7" fill="#ffffff" />
<rect x="774.0" y="737.9" width="14.0" height="3.5" fill="#efe6cf" />
<rect x="774.0" y="733.9" width="3.0" height="4.5" fill="#efe6cf" />
<rect x="780.0" y="734.9" width="2.5" height="3.5" fill="#efe6cf" />
<rect x="785.5" y="733.9" width="2.5" height="4.5" fill="#efe6cf" />
<path d="M754.2 779.0 H770.8 L774.0 782.2 V812.7 L770.8 815.9 H754.2 L751.0 812.7 V782.2 Z" fill="#cfcdcf"/>
<rect x="754.2" y="813.7" width="16.6" height="2.2" fill="#b9b3b7" />
<rect x="754.2" y="779.0" width="16.6" height="1.2" fill="#dedade" />
<rect x="754.4" y="793.5" width="3.8" height="8" rx="1.5" fill="#11542a"/>
<rect x="784.4" y="775.1" width="26.5" height="41.3" fill="#221f20" />
<rect x="784.4" y="775.1" width="26.5" height="6.6" fill="#ffffff" />
<rect x="784.4" y="809.8" width="26.5" height="6.6" fill="#ffffff" />
<rect x="795.6" y="784.7" width="4.5" height="22.1" fill="#efe6cf" />
<rect x="791.6" y="784.7" width="5.0" height="2.5" fill="#efe6cf" />
<rect x="791.6" y="794.8" width="5.0" height="2.5" fill="#efe6cf" />
<rect x="791.6" y="804.3" width="5.0" height="2.5" fill="#efe6cf" />
<path d="M765.7 838.8 H795.8 L799.0 842.0 V857.8 L795.8 861.0 H765.7 L762.5 857.8 V842.0 Z" fill="#cfcdcf"/>
<rect x="765.7" y="858.8" width="30.1" height="2.2" fill="#b9b3b7" />
<rect x="765.7" y="838.8" width="30.1" height="1.2" fill="#dedade" />
<path d="M800.5 875.2 H832.5 L833.3 876.0 V897.1 L832.5 897.9 H800.5 L799.7 897.1 V876.0 Z" fill="#cfcdcf"/>
<rect x="800.5" y="895.7" width="32.0" height="2.2" fill="#b9b3b7" />
<rect x="800.5" y="875.2" width="32.0" height="1.2" fill="#dedade" />
<rect x="811.5" y="879.0" width="10.5" height="3.4" rx="1.5" fill="#11542a"/>
<path d="M799.7 616.1 H810 L816 622.5 L823 616.1 H833.3 V637 H799.7 Z" fill="#d2d0d2"/>
<rect x="800.5" y="634.6" width="32.8" height="2.4" fill="#b9b3b7" />
<rect x="829.5" y="656.8" width="29.5" height="7.2" fill="url(#icpinL)" />
<rect x="1062.4" y="656.8" width="29.8" height="7.2" fill="url(#icpinR)" />
<rect x="829.5" y="667.9" width="29.5" height="7.2" fill="url(#icpinL)" />
<rect x="1062.4" y="667.9" width="29.8" height="7.2" fill="url(#icpinR)" />
<rect x="829.5" y="682.6" width="29.5" height="4.0" fill="url(#icpinL)" />
<rect x="1062.4" y="682.6" width="29.8" height="4.0" fill="url(#icpinR)" />
<rect x="829.5" y="693.9" width="29.5" height="7.2" fill="url(#icpinL)" />
<rect x="1062.4" y="693.9" width="29.8" height="7.2" fill="url(#icpinR)" />
<rect x="829.5" y="705.0" width="29.5" height="7.2" fill="url(#icpinL)" />
<rect x="1062.4" y="705.0" width="29.8" height="7.2" fill="url(#icpinR)" />
<rect x="829.5" y="716.1" width="29.5" height="7.2" fill="url(#icpinL)" />
<rect x="1062.4" y="716.1" width="29.8" height="7.2" fill="url(#icpinR)" />
<rect x="829.5" y="727.2" width="29.5" height="7.2" fill="url(#icpinL)" />
<rect x="1062.4" y="727.2" width="29.8" height="7.2" fill="url(#icpinR)" />
<rect x="829.5" y="738.3" width="29.5" height="7.2" fill="url(#icpinL)" />
<rect x="1062.4" y="738.3" width="29.8" height="7.2" fill="url(#icpinR)" />
<rect x="829.5" y="753.1" width="29.5" height="4.0" fill="url(#icpinL)" />
<rect x="1062.4" y="753.1" width="29.8" height="4.0" fill="url(#icpinR)" />
<rect x="829.5" y="764.5" width="29.5" height="7.2" fill="url(#icpinL)" />
<rect x="1062.4" y="764.5" width="29.8" height="7.2" fill="url(#icpinR)" />
<rect x="829.5" y="775.4" width="29.5" height="7.2" fill="url(#icpinL)" />
<rect x="1062.4" y="775.4" width="29.8" height="7.2" fill="url(#icpinR)" />
<rect x="829.5" y="786.8" width="29.5" height="7.2" fill="url(#icpinL)" />
<rect x="1062.4" y="786.8" width="29.8" height="7.2" fill="url(#icpinR)" />
<rect x="829.5" y="797.8" width="29.5" height="7.2" fill="url(#icpinL)" />
<rect x="1062.4" y="797.8" width="29.8" height="7.2" fill="url(#icpinR)" />
<rect x="829.5" y="809.0" width="29.5" height="7.2" fill="url(#icpinL)" />
<rect x="1062.4" y="809.0" width="29.8" height="7.2" fill="url(#icpinR)" />
<rect x="829.5" y="823.3" width="29.5" height="4.0" fill="url(#icpinL)" />
<rect x="1062.4" y="823.3" width="29.8" height="4.0" fill="url(#icpinR)" />
<rect x="829.5" y="834.7" width="29.5" height="7.2" fill="url(#icpinL)" />
<rect x="1062.4" y="834.7" width="29.8" height="7.2" fill="url(#icpinR)" />
<rect x="829.5" y="845.9" width="29.5" height="7.2" fill="url(#icpinL)" />
<rect x="1062.4" y="845.9" width="29.8" height="7.2" fill="url(#icpinR)" />
<rect x="829.5" y="857.4" width="29.5" height="7.2" fill="url(#icpinL)" />
<rect x="1062.4" y="857.4" width="29.8" height="7.2" fill="url(#icpinR)" />
<rect x="858.8" y="616.1" width="199.5" height="288.4" fill="#282828" />
<rect x="1048.6" y="616.1" width="9.7" height="288.4" fill="#1e1e1e" />
<rect x="872.8" y="620.3" width="175.8" height="280.9" fill="#414141" />
<rect x="954.0" y="619.3" width="12.0" height="2.0" fill="#1f7a3c" />
<path d="M1076.0 597.5 H1093.0 L1096.2 600.7 V632.0 L1093.0 635.2 H1076.0 L1072.8 632.0 V600.7 Z" fill="#cfcdcf"/>
<rect x="1076.0" y="633.0" width="17.0" height="2.2" fill="#b9b3b7" />
<rect x="1076.0" y="597.5" width="17.0" height="1.2" fill="#dedade" />
<path d="M1117.2 634.5 H1133.8 L1137.0 637.7 V668.2 L1133.8 671.4 H1117.2 L1114.0 668.2 V637.7 Z" fill="#cfcdcf"/>
<rect x="1117.2" y="669.2" width="16.6" height="2.2" fill="#b9b3b7" />
<rect x="1117.2" y="634.5" width="16.6" height="1.2" fill="#dedade" />
<rect x="1117.4" y="649.0" width="3.8" height="8" rx="1.5" fill="#11542a"/>
<path d="M1117.2 705.0 H1133.8 L1137.0 708.2 V738.8 L1133.8 742.0 H1117.2 L1114.0 738.8 V708.2 Z" fill="#cfcdcf"/>
<rect x="1117.2" y="739.8" width="16.6" height="2.2" fill="#b9b3b7" />
<rect x="1117.2" y="705.0" width="16.6" height="1.2" fill="#dedade" />
<path d="M1137.3 717.5 L1130.5 721.5 V726.5 L1137.3 729.5 Z" fill="#235c33"/>
<path d="M1117.2 779.0 H1133.8 L1137.0 782.2 V812.8 L1133.8 816.0 H1117.2 L1114.0 812.8 V782.2 Z" fill="#cfcdcf"/>
<rect x="1117.2" y="813.8" width="16.6" height="2.2" fill="#b9b3b7" />
<rect x="1117.2" y="779.0" width="16.6" height="1.2" fill="#dedade" />
<rect x="1117.4" y="793.5" width="3.8" height="8" rx="1.5" fill="#11542a"/>
<path d="M1117.2 849.8 H1133.8 L1137.0 853.0 V883.5 L1133.8 886.7 H1117.2 L1114.0 883.5 V853.0 Z" fill="#cfcdcf"/>
<rect x="1117.2" y="884.5" width="16.6" height="2.2" fill="#b9b3b7" />
<rect x="1117.2" y="849.8" width="16.6" height="1.2" fill="#dedade" />
<path d="M1137.3 862.2 L1130.5 866.2 V871.2 L1137.3 874.2 Z" fill="#235c33"/>
<path d="M1076.0 886.7 H1093.0 L1096.2 889.9 V920.9 L1093.0 924.1 H1076.0 L1072.8 920.9 V889.9 Z" fill="#cfcdcf"/>
<rect x="1076.0" y="921.9" width="17.0" height="2.2" fill="#b9b3b7" />
<rect x="1076.0" y="886.7" width="17.0" height="1.2" fill="#dedade" />
<rect x="880.8" y="308.0" width="40.9" height="22.4" fill="#221f20" />
<rect x="880.8" y="308.0" width="6.8" height="22.4" fill="#ffffff" />
<rect x="914.9" y="308.0" width="6.8" height="22.4" fill="#ffffff" />
<rect x="893.6" y="315.7" width="21.3" height="6.0" fill="#efe6cf" />
<rect x="821.4" y="345.2" width="22.8" height="41.0" fill="#221f20" />
<rect x="821.4" y="345.2" width="22.8" height="6.6" fill="#ffffff" />
<rect x="821.4" y="379.6" width="22.8" height="6.6" fill="#ffffff" />
<rect x="829.0" y="351.8" width="8.0" height="18.9" fill="#efe6cf" />
<path d="M1383.5 345.4 H1413.9 L1417.1 348.6 V363.2 L1413.9 366.4 H1383.5 L1380.3 363.2 V348.6 Z" fill="#cfcdcf"/>
<rect x="1383.5" y="364.2" width="30.4" height="2.2" fill="#b9b3b7" />
<rect x="1383.5" y="345.4" width="30.4" height="1.2" fill="#dedade" />
<rect x="1395.2" y="358.8" width="7.2" height="3.6" rx="1.5" fill="#11542a"/>
<rect x="1369.5" y="397.0" width="55.8" height="25.5" fill="#111111" />
<path d="M1383.5 452.4 H1413.9 L1417.1 455.6 V471.8 L1413.9 475.0 H1383.5 L1380.3 471.8 V455.6 Z" fill="#cfcdcf"/>
<rect x="1383.5" y="472.8" width="30.4" height="2.2" fill="#b9b3b7" />
<rect x="1383.5" y="452.4" width="30.4" height="1.2" fill="#dedade" />
<rect x="1395.2" y="467.4" width="7.2" height="3.6" rx="1.5" fill="#11542a"/>
<rect x="1476.9" y="359.8" width="55.8" height="55.8" fill="#111111" />
<rect x="1481.0" y="405.0" width="6.0" height="2.0" fill="#1f7a3c" />
<rect x="1481.0" y="405.0" width="2.0" height="6.0" fill="#1f7a3c" />
<rect x="1606.4" y="333.7" width="55.9" height="56.0" fill="#111111" />
<rect x="1648.0" y="381.0" width="6.5" height="2.0" fill="#1f7a3c" />
<rect x="1652.5" y="377.0" width="2.0" height="6.0" fill="#1f7a3c" />
<rect x="1468.9" y="459.9" width="27.2" height="41.2" fill="#221f20" />
<rect x="1468.9" y="459.9" width="27.2" height="6.6" fill="#ffffff" />
<rect x="1468.9" y="494.5" width="27.2" height="6.6" fill="#ffffff" />
<rect x="1479.0" y="474.5" width="7.0" height="5.5" fill="#efe6cf" />
<rect x="1479.0" y="483.5" width="7.0" height="3.0" fill="#efe6cf" />
<rect x="1506.1" y="459.9" width="23.3" height="41.2" fill="#221f20" />
<rect x="1506.1" y="459.9" width="23.3" height="6.6" fill="#ffffff" />
<rect x="1506.1" y="494.5" width="23.3" height="6.6" fill="#ffffff" />
<rect x="1514.2" y="474.5" width="7.0" height="5.5" fill="#efe6cf" />
<rect x="1514.2" y="483.5" width="7.0" height="3.0" fill="#efe6cf" />
<rect x="1432.5" y="530.5" width="115.0" height="60.0" fill="#d4d4d4" />
<rect x="1444.5" y="530.5" width="90.4" height="60.0" fill="#4f4f4f" />
<circle cx="1440.5" cy="534.0" r="3.6" fill="#f6f6f6"/>
<circle cx="1440.5" cy="587.3" r="3.6" fill="#f6f6f6"/>
<circle cx="1540.0" cy="534.0" r="3.6" fill="#f6f6f6"/>
<circle cx="1540.0" cy="587.3" r="3.6" fill="#f6f6f6"/>
<rect x="1721.3" y="441.0" width="114.5" height="60.7" fill="#d4d4d4" />
<rect x="1733.3" y="441.0" width="89.9" height="60.7" fill="#4f4f4f" />
<circle cx="1729.3" cy="444.5" r="3.6" fill="#f6f6f6"/>
<circle cx="1729.3" cy="498.5" r="3.6" fill="#f6f6f6"/>
<circle cx="1828.3" cy="444.5" r="3.6" fill="#f6f6f6"/>
<circle cx="1828.3" cy="498.5" r="3.6" fill="#f6f6f6"/>
<rect x="1709.9" y="326.4" width="41.0" height="22.8" fill="#221f20" />
<rect x="1709.9" y="326.4" width="6.8" height="22.8" fill="#ffffff" />
<rect x="1744.1" y="326.4" width="6.8" height="22.8" fill="#ffffff" />
<path d="M1722.4 334.8 H1738.4 V341.8 H1730.4 Z" fill="#efe6cf"/>
<rect x="1709.9" y="363.4" width="41.0" height="22.8" fill="#221f20" />
<rect x="1709.9" y="363.4" width="6.8" height="22.8" fill="#ffffff" />
<rect x="1744.1" y="363.4" width="6.8" height="22.8" fill="#ffffff" />
<path d="M1722.4 371.8 H1738.4 V378.8 H1730.4 Z" fill="#efe6cf"/>
<rect x="1791.2" y="274.8" width="22.8" height="44.3" fill="#221f20" />
<rect x="1791.2" y="274.8" width="22.8" height="6.6" fill="#ffffff" />
<rect x="1791.2" y="312.5" width="22.8" height="6.6" fill="#ffffff" />
<rect x="1799.1" y="291.0" width="7.0" height="5.5" fill="#efe6cf" />
<rect x="1799.1" y="300.0" width="7.0" height="3.0" fill="#efe6cf" />
<rect x="1883.8" y="274.8" width="26.5" height="44.3" fill="#221f20" />
<rect x="1883.8" y="274.8" width="26.5" height="6.6" fill="#ffffff" />
<rect x="1883.8" y="312.5" width="26.5" height="6.6" fill="#ffffff" />
<rect x="1893.5" y="291.0" width="7.0" height="5.5" fill="#efe6cf" />
<rect x="1893.5" y="300.0" width="7.0" height="3.0" fill="#efe6cf" />
<rect x="1920.8" y="274.8" width="22.8" height="44.3" fill="#221f20" />
<rect x="1920.8" y="274.8" width="22.8" height="6.6" fill="#ffffff" />
<rect x="1920.8" y="312.5" width="22.8" height="6.6" fill="#ffffff" />
<rect x="1928.7" y="291.0" width="7.0" height="5.5" fill="#efe6cf" />
<rect x="1928.7" y="300.0" width="7.0" height="3.0" fill="#efe6cf" />
<rect x="1791.2" y="345.2" width="22.8" height="40.6" fill="#221f20" />
<rect x="1791.2" y="345.2" width="22.8" height="6.6" fill="#ffffff" />
<rect x="1791.2" y="379.2" width="22.8" height="6.6" fill="#ffffff" />
<rect x="1801.1" y="354.8" width="4.0" height="20.4" fill="#efe6cf" />
<rect x="1803.6" y="362.5" width="4.0" height="3.5" fill="#efe6cf" />
<rect x="1883.8" y="345.2" width="26.5" height="41.0" fill="#221f20" />
<rect x="1883.8" y="345.2" width="26.5" height="6.6" fill="#ffffff" />
<rect x="1883.8" y="379.6" width="26.5" height="6.6" fill="#ffffff" />
<rect x="1895.0" y="354.8" width="4.5" height="21.8" fill="#efe6cf" />
<rect x="1891.0" y="354.8" width="5.0" height="2.5" fill="#efe6cf" />
<rect x="1891.0" y="364.7" width="5.0" height="2.5" fill="#efe6cf" />
<rect x="1891.0" y="374.1" width="5.0" height="2.5" fill="#efe6cf" />
<rect x="1920.8" y="341.4" width="22.8" height="41.0" fill="#221f20" />
<rect x="1920.8" y="341.4" width="22.8" height="6.6" fill="#ffffff" />
<rect x="1920.8" y="375.8" width="22.8" height="6.6" fill="#ffffff" />
<rect x="1930.2" y="351.0" width="4.5" height="21.8" fill="#efe6cf" />
<rect x="1926.2" y="351.0" width="5.0" height="2.5" fill="#efe6cf" />
<rect x="1926.2" y="360.9" width="5.0" height="2.5" fill="#efe6cf" />
<rect x="1926.2" y="370.3" width="5.0" height="2.5" fill="#efe6cf" />
<rect x="2246.7" y="275.1" width="51.6" height="28.7" fill="#2a2d2b" />
<rect x="2254.0" y="292.0" width="6.0" height="2.0" fill="#1f7a3c" />
<rect x="2254.0" y="292.0" width="2.0" height="6.0" fill="#1f7a3c" />
<path d="M2320.2 270.6 H2335.6 L2338.8 273.8 V304.8 L2335.6 308.0 H2320.2 L2317.0 304.8 V273.8 Z" fill="#cfcdcf"/>
<rect x="2320.2" y="305.8" width="15.4" height="2.2" fill="#b9b3b7" />
<rect x="2320.2" y="270.6" width="15.4" height="1.2" fill="#dedade" />
<rect x="2331.4" y="283.8" width="3.8" height="11" rx="1.5" fill="#11542a"/>
<rect x="2254.0" y="333.5" width="41.4" height="23.2" fill="#221f20" />
<rect x="2254.0" y="333.5" width="6.8" height="23.2" fill="#ffffff" />
<rect x="2288.6" y="333.5" width="6.8" height="23.2" fill="#ffffff" />
<rect x="2268.2" y="342.1" width="6.0" height="6.5" fill="#efe6cf" />
<rect x="2277.2" y="342.1" width="3.5" height="6.5" fill="#efe6cf" />
<path d="M2114.0 474.3 H2149.6 L2150.4 475.1 V496.3 L2149.6 497.1 H2114.0 L2113.2 496.3 V475.1 Z" fill="#cfcdcf"/>
<rect x="2114.0" y="494.9" width="35.6" height="2.2" fill="#b9b3b7" />
<rect x="2114.0" y="474.3" width="35.6" height="1.2" fill="#dedade" />
<rect x="2128.3" y="489.5" width="7.2" height="3.6" rx="1.5" fill="#11542a"/>
<rect x="2101.7" y="519.3" width="27.0" height="41.4" fill="#221f20" />
<rect x="2101.7" y="519.3" width="27.0" height="6.6" fill="#ffffff" />
<rect x="2101.7" y="554.1" width="27.0" height="6.6" fill="#ffffff" />
<rect x="2111.7" y="530.0" width="7.5" height="2.5" fill="#efe6cf" />
<rect x="2111.7" y="536.5" width="7.5" height="6.5" fill="#efe6cf" />
<circle cx="2116.7" cy="550.0" r="2.6" fill="#efe6cf"/>
<rect x="2179.7" y="504.2" width="27.0" height="41.7" fill="#221f20" />
<rect x="2179.7" y="504.2" width="27.0" height="6.6" fill="#ffffff" />
<rect x="2179.7" y="539.3" width="27.0" height="6.6" fill="#ffffff" />
<rect x="2191.2" y="513.8" width="4.5" height="22.5" fill="#efe6cf" />
<rect x="2187.2" y="513.8" width="5.0" height="2.5" fill="#efe6cf" />
<rect x="2187.2" y="524.0" width="5.0" height="2.5" fill="#efe6cf" />
<rect x="2187.2" y="533.8" width="5.0" height="2.5" fill="#efe6cf" />
<path d="M2231.2 500.9 H2261.8 L2265.0 504.1 V520.5 L2261.8 523.7 H2231.2 L2228.0 520.5 V504.1 Z" fill="#cfcdcf"/>
<rect x="2231.2" y="521.5" width="30.6" height="2.2" fill="#b9b3b7" />
<rect x="2231.2" y="500.9" width="30.6" height="1.2" fill="#dedade" />
<rect x="2243.0" y="516.1" width="7.2" height="3.6" rx="1.5" fill="#11542a"/>
<circle cx="2154" cy="558.5" r="10" fill="#d3d7ee"/>
<circle cx="2154" cy="599" r="10" fill="#d3d7ee"/>
<circle cx="2154" cy="639.8" r="10" fill="#d3d7ee"/>
<circle cx="2154" cy="679.6" r="10" fill="#d3d7ee"/>
<circle cx="2154" cy="719.9" r="10" fill="#d3d7ee"/>
<circle cx="2200.3" cy="576.9" r="10" fill="#d3d7ee"/>
<circle cx="2200.3" cy="617.9" r="10" fill="#d3d7ee"/>
<circle cx="2200.3" cy="658.8" r="10" fill="#d3d7ee"/>
<circle cx="2200.3" cy="699" r="10" fill="#d3d7ee"/>
<circle cx="2200.3" cy="739.8" r="10" fill="#d3d7ee"/>
<circle cx="2245" cy="558.5" r="10" fill="#d3d7ee"/>
<circle cx="2245" cy="599" r="10" fill="#d3d7ee"/>
<circle cx="2245" cy="639.8" r="10" fill="#d3d7ee"/>
<circle cx="2245" cy="679.6" r="10" fill="#d3d7ee"/>
<circle cx="2245" cy="719.9" r="10" fill="#d3d7ee"/>
<rect x="2142.7" y="760.2" width="41.0" height="26.8" fill="#221f20" />
<rect x="2142.7" y="760.2" width="6.8" height="26.8" fill="#ffffff" />
<rect x="2176.9" y="760.2" width="6.8" height="26.8" fill="#ffffff" />
<rect x="2156.7" y="770.6" width="6.0" height="6.5" fill="#efe6cf" />
<rect x="2165.7" y="770.6" width="3.5" height="6.5" fill="#efe6cf" />
<path d="M2212.3 763.7 H2243.4 L2246.6 766.9 V783.1 L2243.4 786.3 H2212.3 L2209.1 783.1 V766.9 Z" fill="#cfcdcf"/>
<rect x="2212.3" y="784.1" width="31.1" height="2.2" fill="#b9b3b7" />
<rect x="2212.3" y="763.7" width="31.1" height="1.2" fill="#dedade" />
<rect x="2165.3" y="797.4" width="40.9" height="26.6" fill="#221f20" />
<rect x="2165.3" y="797.4" width="6.8" height="26.6" fill="#ffffff" />
<rect x="2199.4" y="797.4" width="6.8" height="26.6" fill="#ffffff" />
<rect x="2178.8" y="808.2" width="15.0" height="4.0" fill="#efe6cf" />
<rect x="2178.8" y="805.7" width="3.0" height="3.0" fill="#efe6cf" />
<rect x="2190.8" y="805.7" width="3.0" height="3.0" fill="#efe6cf" />
<path d="M2236.5 797.4 H2268.6 L2269.4 798.2 V822.7 L2268.6 823.5 H2236.5 L2235.7 822.7 V798.2 Z" fill="#cfcdcf"/>
<rect x="2236.5" y="821.3" width="32.1" height="2.2" fill="#b9b3b7" />
<rect x="2236.5" y="797.4" width="32.1" height="1.2" fill="#dedade" />
<rect x="2248.6" y="815.5" width="8.5" height="5.8" fill="#1d6b34" />
<path d="M2197 393.5 H2186 L2177 403 V428 L2186 437.5 H2197 Z" fill="#434857"/>
<rect x="2172.6" y="404.0" width="3.0" height="18.7" fill="#0a9a44" />
<path d="M2209.2 389.6 L2224.8 401.8 V407.4 H2209.2 Z" fill="#d8dcf0"/>
<path d="M2209.2 427.4 H2224.8 V430 L2216 437.5 H2209.2 Z" fill="#d8dcf0"/>
<rect x="2205.7" y="389.6" width="3.5" height="18.0" fill="#0c0c10" />
<rect x="2205.7" y="427.2" width="3.5" height="12.8" fill="#0c0c10" />
<path d="M2197 407.4 H2225.3 V411.5 L2229.2 414.5 L2225.3 417.5 V427.4 H2197 Z" fill="#ffffff"/>
<rect x="2191.3" y="382.2" width="14.4" height="24.4" fill="#9a9cb4" />
<rect x="2191.3" y="427.9" width="14.4" height="24.4" fill="url(#sb)" />
<circle cx="2200.2" cy="866.2" r="25.6" fill="#ffffff"/>
<path d="M2224 862.5 L2229.4 866.6 L2224 870.8 Z" fill="#ffffff"/>
<rect x="2172.6" y="858.0" width="1.8" height="17.0" fill="#0a8a3c" />
<path d="M2209.2 842.5 L2221.4 853 V855.5 H2209.2 Z" fill="#d8dcf0"/>
<path d="M2209.2 879.6 H2221 L2213 889.5 H2209.2 Z" fill="#d8dcf0"/>
<rect x="2205.7" y="839.6" width="3.5" height="16.1" fill="#0c0c10" />
<rect x="2205.7" y="879.6" width="3.5" height="10.4" fill="#0c0c10" />
<rect x="2191.8" y="831.3" width="13.9" height="22.2" fill="#9a9cb4" />
<rect x="2191.8" y="883.1" width="13.9" height="21.8" fill="#3c3f4b" />
</g>
<line x1="292.8" y1="216.0" x2="292.8" y2="349.0" stroke="#000" stroke-width="3.7" stroke-linecap="round"/>
<line x1="229.5" y1="283.4" x2="359.2" y2="283.4" stroke="#000" stroke-width="3.7" stroke-linecap="round"/>
<line x1="2043.8" y1="217.5" x2="2043.8" y2="349.0" stroke="#000" stroke-width="3.7" stroke-linecap="round"/>
<line x1="1976.2" y1="282.8" x2="2109.5" y2="282.8" stroke="#000" stroke-width="3.7" stroke-linecap="round"/>
<path d="M291.6 938 V1036 L293.6 1038 V1071" fill="none" stroke="#000" stroke-width="3.7" stroke-linecap="round"/>
<line x1="226.0" y1="1003.8" x2="360.2" y2="1003.8" stroke="#000" stroke-width="3.7" stroke-linecap="round"/>
<line x1="2043.8" y1="938.0" x2="2043.8" y2="1071.0" stroke="#000" stroke-width="3.7" stroke-linecap="round"/>
<line x1="1976.0" y1="1003.8" x2="2110.0" y2="1003.8" stroke="#000" stroke-width="3.7" stroke-linecap="round"/>
<line x1="115.5" y1="124.7" x2="2490.5" y2="124.7" stroke="#505050" stroke-width="3.1" stroke-linecap="round"/>
<line x1="135.2" y1="107.5" x2="135.2" y2="405.0" stroke="#505050" stroke-width="3.1" stroke-linecap="round"/>
<line x1="2694.0" y1="222.5" x2="2694.0" y2="1065.0" stroke="#505050" stroke-width="3.1" stroke-linecap="round"/>
<line x1="290.0" y1="1178.5" x2="2316.0" y2="1178.5" stroke="#505050" stroke-width="3.1" stroke-linecap="round"/>
<line x1="273.0" y1="1289.3" x2="2456.0" y2="1289.3" stroke="#505050" stroke-width="3.1" stroke-linecap="round"/>
<path d="M242.4 125.2 L175.4 135.3 Q182.4 129.5 182.9 124.7 Q182.4 119.9 175.4 114.1 L242.4 124.2 Z" fill="#808080"/>
<path d="M288.6 124.2 L355.6 114.1 Q348.6 119.9 348.1 124.7 Q348.6 129.5 355.6 135.3 L288.6 125.2 Z" fill="#808080"/>
<path d="M2046.6 125.2 L1979.6 135.3 Q1986.6 129.5 1987.1 124.7 Q1986.6 119.9 1979.6 114.1 L2046.6 124.2 Z" fill="#808080"/>
<path d="M2366.2 124.2 L2433.2 114.1 Q2426.2 119.9 2425.7 124.7 Q2426.2 129.5 2433.2 135.3 L2366.2 125.2 Z" fill="#808080"/>
<path d="M134.7 231.5 L124.6 164.5 Q130.4 171.5 135.2 172.0 Q140.0 171.5 145.8 164.5 L135.7 231.5 Z" fill="#808080"/>
<path d="M135.7 280.4 L145.8 347.4 Q140.0 340.4 135.2 339.9 Q130.4 340.4 124.6 347.4 L134.7 280.4 Z" fill="#808080"/>
<path d="M2694.5 225.7 L2704.6 292.7 Q2698.8 285.7 2694.0 285.2 Q2689.2 285.7 2683.4 292.7 L2693.5 225.7 Z" fill="#808080"/>
<path d="M2693.5 1060.8 L2683.4 993.8 Q2689.2 1000.8 2694.0 1001.3 Q2698.8 1000.8 2704.6 993.8 L2694.5 1060.8 Z" fill="#808080"/>
<path d="M230.6 1179.2 L301.3 1169.0 Q295.1 1173.7 294.0 1178.7 Q297.6 1186.7 311.6 1192.7 Z" fill="#808080"/>
<path d="M2376.1 1179.2 L2305.4 1189.4 Q2311.6 1184.7 2312.7 1179.7 Q2309.1 1171.7 2295.1 1165.7 Z" fill="#808080"/>
<path d="M213.5 1289.3 L284.2 1279.1 Q278.0 1283.8 276.9 1288.8 Q280.5 1296.8 294.5 1302.8 Z" fill="#808080"/>
<path d="M2515.7 1289.3 L2445.0 1299.5 Q2451.2 1294.8 2452.3 1289.8 Q2448.7 1281.8 2434.7 1275.8 Z" fill="#808080"/>
<line x1="239.4" y1="107.5" x2="239.4" y2="264.5" stroke="#505050" stroke-width="3.1" stroke-linecap="round"/>
<line x1="291.6" y1="107.5" x2="291.6" y2="214.0" stroke="#505050" stroke-width="3.1" stroke-linecap="round"/>
<line x1="2043.6" y1="107.5" x2="2043.6" y2="215.5" stroke="#505050" stroke-width="3.1" stroke-linecap="round"/>
<line x1="2369.2" y1="107.5" x2="2369.2" y2="264.5" stroke="#505050" stroke-width="3.1" stroke-linecap="round"/>
<line x1="115.5" y1="228.5" x2="276.0" y2="228.5" stroke="#505050" stroke-width="3.1" stroke-linecap="round"/>
<line x1="115.5" y1="283.4" x2="228.0" y2="283.4" stroke="#505050" stroke-width="3.1" stroke-linecap="round"/>
<line x1="2331.5" y1="228.7" x2="2713.5" y2="228.7" stroke="#505050" stroke-width="3.1" stroke-linecap="round"/>
<line x1="2331.5" y1="1057.8" x2="2713.5" y2="1057.8" stroke="#505050" stroke-width="3.1" stroke-linecap="round"/>
<line x1="239.5" y1="1022.0" x2="239.5" y2="1198.0" stroke="#505050" stroke-width="3.1" stroke-linecap="round"/>
<line x1="2369.2" y1="1021.5" x2="2369.2" y2="1198.0" stroke="#505050" stroke-width="3.1" stroke-linecap="round"/>
<line x1="220.8" y1="620.0" x2="220.8" y2="1308.5" stroke="#505050" stroke-width="2.7" stroke-linecap="round"/>
<line x1="2508.9" y1="747.0" x2="2508.9" y2="1308.5" stroke="#505050" stroke-width="2.7" stroke-linecap="round"/>
<text x="246.35" y="104.8" font-size="87" fill="#737373">3</text>
<text x="1121.45 1169.30" y="104.8" font-size="87" fill="#737373">97</text>
<text x="2155.40 2200.20" y="104.8" font-size="87" fill="#737373">18</text>
<rect x="2159.9" y="97.2" width="17.2" height="8.8" fill="#ffffff" />
<rect x="2185.2" y="97.2" width="15.7" height="8.8" fill="#ffffff" />
<text x="1205.15 1253.25 1297.90" y="1159.0" font-size="87" fill="#737373">118</text>
<rect x="1209.7" y="1151.4" width="17.2" height="8.8" fill="#ffffff" />
<rect x="1235.0" y="1151.4" width="15.7" height="8.8" fill="#ffffff" />
<rect x="1257.8" y="1151.4" width="17.2" height="8.8" fill="#ffffff" />
<rect x="1283.0" y="1151.4" width="15.7" height="8.8" fill="#ffffff" />
<text x="1144.70 1188.85 1237.20 1287.30 1310.55 1358.65" y="1269.3" font-size="87" fill="#737373">126,75</text>
<rect x="1149.2" y="1261.7" width="17.2" height="8.8" fill="#ffffff" />
<rect x="1174.5" y="1261.7" width="15.7" height="8.8" fill="#ffffff" />
<text transform="translate(115.9,248.45) scale(1.042,0.974) rotate(-90)" x="-24" y="0" font-size="87" fill="#737373">3</text>
<text transform="translate(2675.0,700.7) scale(1.028,1.0) rotate(-90)" x="0" y="0" font-size="87" fill="#737373">46</text>
</svg>
</body></html>
